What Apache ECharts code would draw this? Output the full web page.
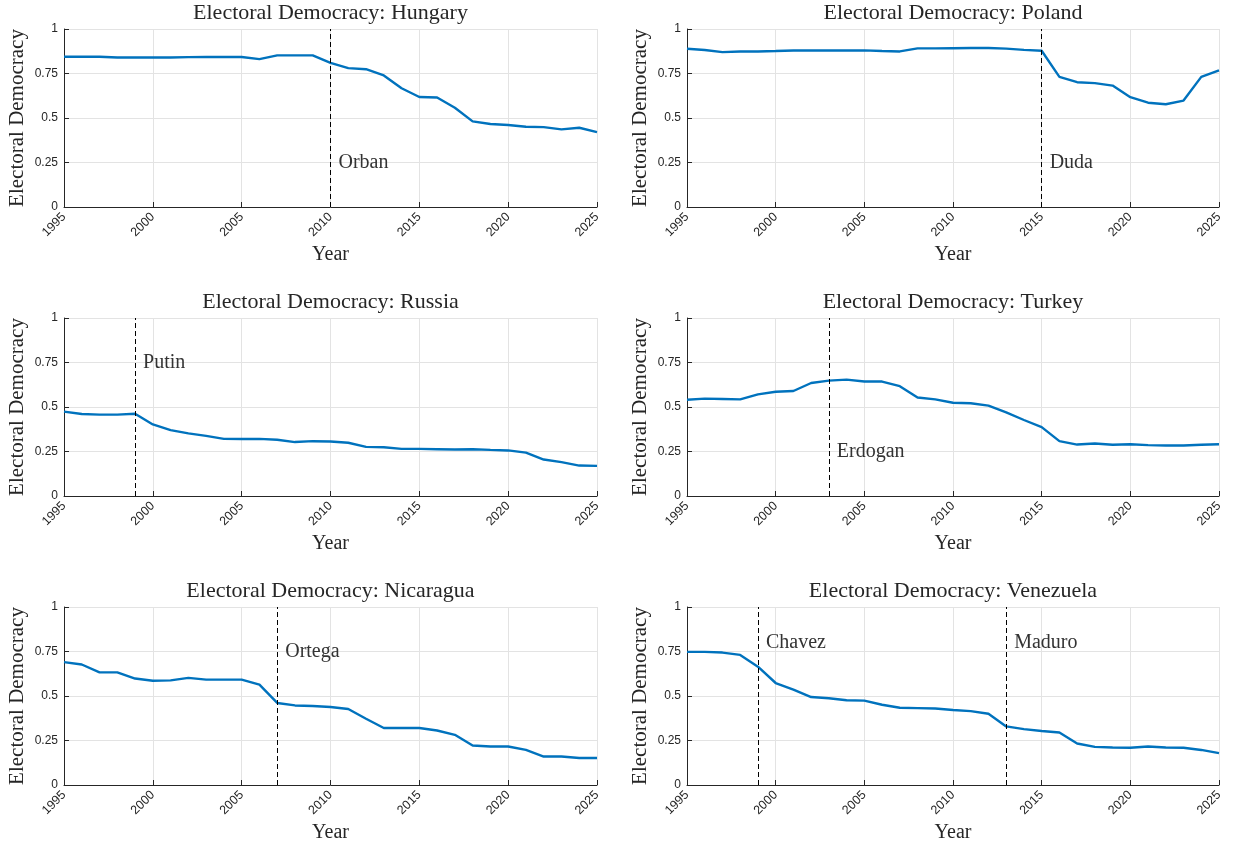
<!DOCTYPE html>
<html>
<head>
<meta charset="utf-8">
<script src="https://cdn.jsdelivr.net/npm/echarts@6/dist/echarts.min.js"></script>
<style>
html,body{margin:0;padding:0;background:#fff;overflow:hidden;}
#chart{width:1239px;height:841px;}
</style>
</head>
<body>
<div id="chart"></div>
<script>
const years = [1995,1996,1997,1998,1999,2000,2001,2002,2003,2004,2005,2006,2007,2008,2009,2010,
  2011,2012,2013,2014,2015,2016,2017,2018,2019,2020,2021,2022,2023,2024,2025];

const hungary   = [0.844,0.844,0.844,0.840,0.840,0.840,0.840,0.842,0.843,0.843,0.843,0.831,0.852,0.852,0.852,0.810,0.780,0.774,0.739,0.667,0.618,0.615,0.558,0.481,0.466,0.461,0.451,0.449,0.436,0.445,0.421];
const poland    = [0.889,0.882,0.870,0.874,0.874,0.876,0.879,0.879,0.879,0.879,0.880,0.876,0.874,0.891,0.891,0.892,0.893,0.893,0.890,0.883,0.878,0.731,0.701,0.696,0.682,0.617,0.586,0.577,0.598,0.731,0.767];
const russia    = [0.474,0.461,0.457,0.457,0.462,0.402,0.370,0.352,0.338,0.321,0.320,0.321,0.316,0.303,0.308,0.306,0.299,0.276,0.274,0.265,0.265,0.263,0.261,0.263,0.259,0.256,0.244,0.205,0.190,0.171,0.169];
const turkey    = [0.541,0.547,0.545,0.543,0.571,0.586,0.590,0.635,0.648,0.654,0.643,0.643,0.617,0.553,0.543,0.524,0.521,0.508,0.470,0.427,0.387,0.308,0.289,0.295,0.288,0.291,0.286,0.284,0.284,0.288,0.291];
const nicaragua = [0.690,0.677,0.633,0.633,0.598,0.586,0.588,0.602,0.592,0.592,0.592,0.564,0.461,0.447,0.444,0.438,0.427,0.372,0.320,0.320,0.320,0.306,0.282,0.222,0.216,0.216,0.197,0.160,0.160,0.152,0.152];
const venezuela = [0.748,0.748,0.744,0.731,0.665,0.573,0.536,0.494,0.487,0.476,0.474,0.451,0.434,0.432,0.430,0.421,0.415,0.400,0.329,0.314,0.303,0.295,0.233,0.214,0.211,0.209,0.216,0.211,0.209,0.197,0.179];

const countries = ['Hungary','Poland','Russia','Turkey','Nicaragua','Venezuela'];
const seriesValues = [hungary, poland, russia, turkey, nicaragua, venezuela];
const leaderNames  = [['Orban'],['Duda'],['Putin'],['Erdogan'],['Ortega'],['Chavez','Maduro']];
const leaderYears  = [[2010],[2015],[1999],[2003],[2007],[1999,2013]];
const leaderLabelY = [[0.25],[0.25],[0.75],[0.25],[0.75],[0.8,0.8]];

const xMin = 1995, xMax = 2025, xStep = 5;
const yMin = 0, yMax = 1, yStep = 0.25;

// layout (pixels)
const colLeft = [64, 687];
const colWidth = [533, 532];
const rowTop = [29, 318, 607];
const plotHeight = 178;

const serif = 'Liberation Serif';
const sans = 'Liberation Sans';
const ink = '#262626';

const grids = [], xAxes = [], yAxes = [], series = [], titles = [];

countries.forEach((c, i) => {
  const col = i % 2, row = Math.floor(i / 2);
  grids.push({left: colLeft[col], top: rowTop[row], width: colWidth[col], height: plotHeight,
    containLabel: false, outerBoundsMode: 'none'});
  titles.push({
    text: 'Electoral Democracy: ' + c,
    left: colLeft[col] + colWidth[col] / 2,
    top: rowTop[row] - 16,
    padding: 0,
    textAlign: 'center',
    textVerticalAlign: 'middle',
    textStyle: {fontFamily: serif, fontSize: 22, fontWeight: 'normal', color: ink}
  });
  xAxes.push({
    gridIndex: i, type: 'value', min: xMin, max: xMax, interval: xStep,
    name: 'Year', nameLocation: 'middle', nameGap: 38,
    nameTextStyle: {fontFamily: serif, fontSize: 20, color: ink},
    axisLine: {show: true, onZero: false, lineStyle: {color: ink, width: 1}},
    axisTick: {show: true, inside: true, length: 5, lineStyle: {color: ink}},
    axisLabel: {rotate: 45, margin: 8, fontFamily: sans, fontSize: 12.5, color: ink,
      formatter: v => String(v)},
    splitLine: {show: true, lineStyle: {color: '#e3e3e3', width: 1}}
  });
  yAxes.push({
    gridIndex: i, type: 'value', min: yMin, max: yMax, interval: yStep,
    name: 'Electoral Democracy', nameLocation: 'middle', nameGap: 36, nameRotate: 90,
    nameTextStyle: {fontFamily: serif, fontSize: 21, color: ink},
    axisLine: {show: true, onZero: false, lineStyle: {color: ink, width: 1}},
    axisTick: {show: true, inside: true, length: 5, lineStyle: {color: ink}},
    axisLabel: {margin: 6, fontFamily: sans, fontSize: 12, color: ink},
    splitLine: {show: true, lineStyle: {color: '#e3e3e3', width: 1}}
  });
  series.push({
    type: 'line', xAxisIndex: i, yAxisIndex: i,
    data: years.map((y, k) => [y, seriesValues[i][k]]),
    showSymbol: false, symbol: 'none', smooth: false, animation: false,
    lineStyle: {color: '#0072BD', width: 2.4},
    markLine: {
      silent: true, symbol: ['none', 'none'], animation: false,
      label: {show: false},
      lineStyle: {color: '#000', type: [5, 3], width: 1},
      data: leaderYears[i].map(y => ({xAxis: y}))
    },
    z: 3
  });
  series.push({
    type: 'scatter', xAxisIndex: i, yAxisIndex: i, animation: false,
    symbolSize: 0, silent: true,
    itemStyle: {opacity: 1},
    data: leaderYears[i].map((y, k) => ({name: leaderNames[i][k], value: [y, leaderLabelY[i][k]]})),
    label: {show: true, position: 'right', distance: 8, formatter: p => p.name,
      fontFamily: serif, fontSize: 20, color: '#333333', opacity: 1}
  });
});

const chart = echarts.init(document.getElementById('chart'), null, {renderer: 'canvas'});
chart.setOption({
  backgroundColor: '#ffffff',
  animation: false,
  title: titles,
  grid: grids,
  xAxis: xAxes,
  yAxis: yAxes,
  series: series
});
</script>
</body>
</html>
